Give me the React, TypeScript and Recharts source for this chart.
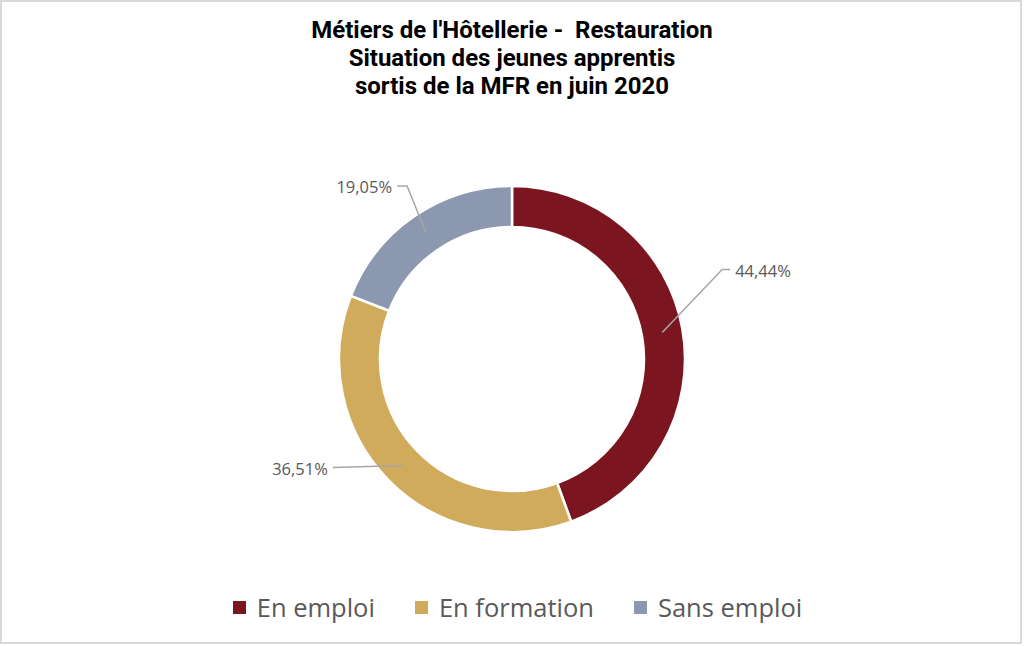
import { PieChart, Pie, Cell, Legend } from 'recharts'

// Répartition des 63 apprentis sortis en juin 2020
const categories = ['En emploi', 'En formation', 'Sans emploi']
const counts = [28, 23, 12]
const COLORS = ['#7B1520', '#D0AB5C', '#8B98B0']

const titleLines = [
  "Métiers de l'Hôtellerie -  Restauration",
  'Situation des jeunes apprentis',
  'sortis de la MFR en juin 2020',
]

const chartData = categories.map((name, i) => ({ name, value: counts[i] }))

// label leader-line layout, relative to the slice's mid-ring point
const LABEL_LAYOUT = [
  { dx: 60, dy: -63, tail: 8, side: 1 },
  { dx: -70, dy: 2, tail: 0, side: -1 },
  { dx: -19, dy: -47, tail: -10, side: -1 },
]

const RADIAN = Math.PI / 180

const renderLabel = (props: any) => {
  const { cx, cy, midAngle, innerRadius, outerRadius, percent, index } = props
  const r = (innerRadius + outerRadius) / 2
  const x0 = cx + r * Math.cos(-midAngle * RADIAN)
  const y0 = cy + r * Math.sin(-midAngle * RADIAN)
  const l = LABEL_LAYOUT[index]
  const x1 = x0 + l.dx
  const y1 = y0 + l.dy
  const x2 = x1 + l.tail
  const text = ((percent || 0) * 100).toFixed(2).replace('.', ',') + '%'
  return (
    <g key={`lbl-${index}`}>
      <polyline
        points={`${x0},${y0} ${x1},${y1} ${x2},${y1}`}
        fill="none"
        stroke="#A6A6A6"
        strokeWidth={1.5}
      />
      <text
        x={x2 + l.side * 5}
        y={y1 + 1}
        textAnchor={l.side > 0 ? 'start' : 'end'}
        dominantBaseline="central"
        fill="#595959"
        fontSize={16.5}
        fontFamily="'Open Sans', sans-serif"
      >
        {text}
      </text>
    </g>
  )
}

const renderLegend = () => (
  <div
    style={{
      display: 'flex',
      justifyContent: 'center',
      alignItems: 'center',
      fontFamily: "'Open Sans', sans-serif",
      fontSize: 25.5,
      color: '#595959',
      paddingLeft: 11,
    }}
  >
    {categories.map((name, i) => (
      <div key={name} style={{ display: 'flex', alignItems: 'center', marginRight: i < 2 ? 40 : 0 }}>
        <span style={{ width: 13, height: 13, background: COLORS[i], marginRight: 11, display: 'inline-block' }} />
        <span>{name}</span>
      </div>
    ))}
  </div>
)

export default function App() {
  return (
    <div style={{ position: 'absolute', left: 0, top: 0, width: 1024, height: 646, background: '#fff' }}>
      <div
        style={{
          position: 'absolute',
          left: 0,
          top: 0,
          width: 1022,
          height: 644,
          border: '2px solid #D9D9D9',
          boxSizing: 'border-box',
        }}
      />
      <div
        style={{
          position: 'absolute',
          top: 16,
          left: 0,
          width: 1024,
          textAlign: 'center',
          fontFamily: 'Roboto, sans-serif',
          fontWeight: 700,
          fontSize: 24,
          lineHeight: '28px',
          color: '#000',
          whiteSpace: 'pre',
        }}
      >
        {titleLines.map((t) => (
          <div key={t}>{t}</div>
        ))}
      </div>
      <PieChart
        width={1024}
        height={646}
        margin={{ top: 0, right: 0, bottom: 0, left: 0 }}
        style={{ position: 'absolute', left: 0, top: 0 }}
      >
        <Pie
          data={chartData}
          dataKey="value"
          nameKey="name"
          cx={512}
          cy={359}
          innerRadius={132}
          outerRadius={173}
          startAngle={90}
          endAngle={-270}
          stroke="#fff"
          strokeWidth={2.5}
          labelLine={false}
          label={renderLabel}
          isAnimationActive={false}
        >
          {chartData.map((entry, index) => (
            <Cell key={`cell-${index}`} fill={COLORS[index]} />
          ))}
        </Pie>
        <Legend
          content={renderLegend}
          wrapperStyle={{ position: 'absolute', top: 590, left: 0, width: 1024 }}
        />
      </PieChart>
    </div>
  )
}
